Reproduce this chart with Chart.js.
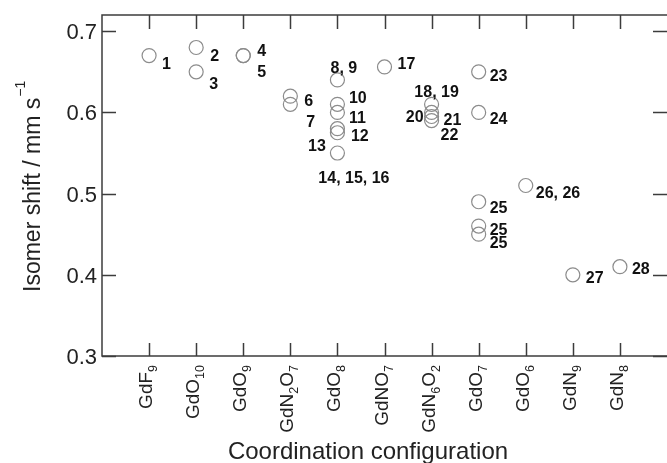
<!DOCTYPE html>
<html>
<head>
<meta charset="utf-8">
<script src="https://cdn.jsdelivr.net/npm/chart.js@4.4.1/dist/chart.umd.min.js"></script>
<style>
    html, body { margin: 0; padding: 0; background: #fff; }
</style>
</head>
<body>
<canvas id="myChart" width="667" height="463"></canvas>
<script>
// coordination configurations along the x axis (digits become subscripts)
const categories = ['GdF9', 'GdO10', 'GdO9', 'GdN2O7', 'GdO8', 'GdNO7', 'GdN6O2', 'GdO7', 'GdO6', 'GdN9', 'GdN8'];
const yTicks = [0.3, 0.4, 0.5, 0.6, 0.7];

// one entry per compound
const pointCategory = ['GdF9', 'GdO10', 'GdO10', 'GdO9', 'GdO9', 'GdN2O7', 'GdN2O7',
    'GdO8', 'GdO8', 'GdO8', 'GdO8', 'GdO8', 'GdO8', 'GdNO7',
    'GdN6O2', 'GdN6O2', 'GdN6O2', 'GdN6O2', 'GdO7', 'GdO7', 'GdO7', 'GdO7', 'GdO7',
    'GdO6', 'GdN9', 'GdN8'];
const isomerShift = [0.67, 0.68, 0.65, 0.67, 0.67, 0.62, 0.61,
    0.64, 0.61, 0.60, 0.58, 0.575, 0.55, 0.656,
    0.61, 0.60, 0.595, 0.59, 0.65, 0.60, 0.49, 0.46, 0.45,
    0.51, 0.40, 0.41];
const pointLabels = ['1', '2', '3', '4', '5', '6', '7',
    '8, 9', '10', '11', '12', '13', '14, 15, 16', '17',
    '18, 19', '20', '21', '22', '23', '24', '25', '25', '25',
    '26, 26', '27', '28'];

// where each number sits next to its circle: [dx, dy, align]
const labelOffsets = [
    [13, 7, 'left'], [14, 7.5, 'left'], [13, 11, 'left'], [14, -6, 'left'], [14, 15.5, 'left'],
    [14, 3.5, 'left'], [16, 16.5, 'left'],
    [6.5, -12.5, 'center'], [11.5, -7, 'left'], [11.5, 5, 'left'], [13.5, 6.5, 'left'],
    [-11.5, 12.5, 'right'], [16.5, 23.5, 'center'], [13, -3.5, 'left'],
    [5, -13, 'center'], [-8, 4, 'right'], [12, 2.5, 'left'], [9, 13, 'left'],
    [11, 3, 'left'], [11, 6, 'left'], [11, 5, 'left'], [11, 2.5, 'left'], [11, 8, 'left'],
    [10, 6, 'left'], [13, 2.5, 'left'], [12, 1.5, 'left']
];

const FONT = "'Liberation Sans', Arial, Helvetica, sans-serif";
const AXIS_COLOR = '#3c3c3c';

const points = pointCategory.map((c, i) => ({ x: categories.indexOf(c) + 1, y: isomerShift[i] }));

// split "GdN2O7" into normal / subscript pieces
function splitFormula(s) {
    const parts = [];
    const re = /(\D+|\d+)/g;
    let m;
    while ((m = re.exec(s)) !== null) {
        parts.push({ text: m[0], sub: /\d/.test(m[0]) });
    }
    return parts;
}

const axisPlugin = {
    id: 'axisPlugin',
    afterDraw(chart) {
        const ctx = chart.ctx;
        const a = chart.chartArea;
        const xs = chart.scales.x;
        const ys = chart.scales.y;
        const tick = 14;

        ctx.save();
        ctx.strokeStyle = AXIS_COLOR;
        ctx.lineWidth = 1.5;
        // frame: left, top and bottom (right side falls off the canvas edge)
        ctx.beginPath();
        ctx.moveTo(chart.width, a.top);
        ctx.lineTo(a.left, a.top);
        ctx.lineTo(a.left, a.bottom);
        ctx.lineTo(chart.width, a.bottom);
        ctx.stroke();

        // inward ticks on all four sides
        ctx.beginPath();
        yTicks.forEach(v => {
            const y = Math.round(ys.getPixelForValue(v)) + 0.5;
            ctx.moveTo(a.left, y); ctx.lineTo(a.left + tick, y);
            ctx.moveTo(a.right, y); ctx.lineTo(a.right - tick, y);
        });
        categories.forEach((c, i) => {
            const x = Math.round(xs.getPixelForValue(i + 1)) + 0.5;
            ctx.moveTo(x, a.bottom); ctx.lineTo(x, a.bottom - tick + 1);
            ctx.moveTo(x, a.top); ctx.lineTo(x, a.top + tick);
        });
        ctx.stroke();

        // y tick labels
        ctx.fillStyle = '#222';
        ctx.font = '22px ' + FONT;
        ctx.textAlign = 'right';
        ctx.textBaseline = 'alphabetic';
        yTicks.forEach(v => {
            const y = ys.getPixelForValue(v);
            ctx.fillText(v.toFixed(1), a.left - 5, y + 8);
        });

        // x tick labels, rotated, ending just under the axis
        categories.forEach((c, i) => {
            const x = xs.getPixelForValue(i + 1);
            const parts = splitFormula(c);
            let total = 0;
            parts.forEach(p => {
                ctx.font = (p.sub ? '12.5px ' : '19px ') + FONT;
                p.w = ctx.measureText(p.text).width;
                total += p.w;
            });
            ctx.save();
            ctx.translate(x + 3, a.bottom + 9);
            ctx.rotate(-Math.PI / 2);
            ctx.textAlign = 'left';
            let pos = -total;
            parts.forEach(p => {
                ctx.font = (p.sub ? '12.5px ' : '19px ') + FONT;
                ctx.fillText(p.text, pos, p.sub ? 5 : 0);
                pos += p.w;
            });
            ctx.restore();
        });

        // axis titles
        ctx.textAlign = 'center';
        ctx.font = '24px ' + FONT;
        ctx.fillText('Coordination configuration', 368, 459);

        ctx.save();
        ctx.translate(40, 292);
        ctx.rotate(-Math.PI / 2);
        ctx.textAlign = 'left';
        ctx.font = '23px ' + FONT;
        const main = 'Isomer shift / mm s';
        ctx.fillText(main, 0, 0);
        const w = ctx.measureText(main).width;
        ctx.font = '14px ' + FONT;
        ctx.fillText('\u22121', w + 1, -15);
        ctx.restore();

        ctx.restore();
    },
    afterDatasetsDraw(chart) {
        const ctx = chart.ctx;
        const meta = chart.getDatasetMeta(0);
        ctx.save();
        ctx.fillStyle = '#111';
        ctx.font = 'bold 16px ' + FONT;
        ctx.textBaseline = 'alphabetic';
        meta.data.forEach((el, i) => {
            const off = labelOffsets[i];
            ctx.textAlign = off[2];
            ctx.fillText(pointLabels[i], el.x + off[0], el.y + off[1] + 6);
        });
        ctx.restore();
    }
};

const ctx = document.getElementById('myChart');
new Chart(ctx, {
    type: 'scatter',
    data: {
        datasets: [{
            label: 'Isomer shift',
            data: points,
            pointStyle: 'circle',
            pointRadius: 7,
            pointHoverRadius: 7,
            borderWidth: 1.2,
            borderColor: '#8c8c8c',
            backgroundColor: 'rgba(0,0,0,0)',
            clip: false
        }]
    },
    options: {
        responsive: false,
        animation: false,
        devicePixelRatio: 1,
        layout: {
            autoPadding: false,
            padding: { left: 102, top: 15, right: -1, bottom: 107 }
        },
        scales: {
            x: { type: 'linear', min: 0, max: 12, display: false },
            y: { type: 'linear', min: 0.3, max: 0.72, display: false }
        },
        plugins: {
            legend: { display: false },
            tooltip: { enabled: false }
        }
    },
    plugins: [axisPlugin]
});
</script>
</body>
</html>
